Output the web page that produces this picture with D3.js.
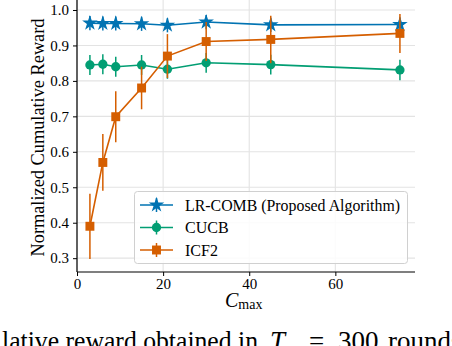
<!DOCTYPE html>
<html><head><meta charset="utf-8">
<script src="https://cdn.jsdelivr.net/npm/d3@7"></script>
<style>body{margin:0;background:#fff}svg{display:block}</style>
</head><body>
<svg id="c" width="452" height="346"></svg>
<script>
const xValues = [3, 6, 9, 15, 21, 30, 45, 75];
const lrcombMean = [0.963, 0.962, 0.962, 0.961, 0.957, 0.966, 0.958, 0.959];
const lrcombErr  = [0.02, 0.02, 0.02, 0.02, 0.02, 0.02, 0.02, 0.02];
const cucbMean = [0.845, 0.847, 0.840, 0.845, 0.833, 0.851, 0.846, 0.831];
const cucbErr  = [0.028, 0.028, 0.028, 0.028, 0.027, 0.028, 0.028, 0.029];
const icf2Mean = [0.390, 0.570, 0.699, 0.780, 0.870, 0.911, 0.917, 0.934];
const icf2Err  = [0.092, 0.080, 0.072, 0.060, 0.062, 0.055, 0.067, 0.055];
const seriesNames = ["LR-COMB (Proposed Algorithm)", "CUCB", "ICF2"];
const seriesColors = ["#0173b2", "#029e73", "#d55e00"];
const xTicks = [0, 20, 40, 60];
const yTicks = [0.3, 0.4, 0.5, 0.6, 0.7, 0.8, 0.9, 1.0];

const FF = '"Liberation Serif", serif';
const svg = d3.select("#c").attr("font-family", FF).style("font-family", FF);
const x = d3.scaleLinear().domain([0, 78.5]).range([77, 415]);
const y = d3.scaleLinear().domain([0.261, 1.0282]).range([272, 0]);

// grid
const g = svg.append("g");
g.selectAll("line.h").data(yTicks).enter().append("line")
  .attr("x1", x(0)).attr("x2", x(78.5)).attr("y1", d => y(d)).attr("y2", d => y(d))
  .attr("stroke", "#e3e3e3").attr("stroke-width", 1.1);
g.selectAll("line.v").data(xTicks).enter().append("line")
  .attr("y1", y(0.261)).attr("y2", 0).attr("x1", d => x(d)).attr("x2", d => x(d))
  .attr("stroke", "#e3e3e3").attr("stroke-width", 1.1);

// axes
const xAxis = d3.axisBottom(x).tickValues(xTicks).tickSize(4).tickPadding(2).tickFormat(d3.format("d"));
const yAxis = d3.axisLeft(y).tickValues(yTicks).tickSize(4).tickPadding(4).tickFormat(d3.format(".1f"));
const gx = svg.append("g").attr("transform", "translate(0,272)").call(xAxis);
const gy = svg.append("g").attr("transform", "translate(77,0)").call(yAxis);
[gx, gy].forEach(a => {
  a.attr("font-family", FF).attr("font-size", 15);
  a.select(".domain").remove();
  a.selectAll("line").attr("stroke", "#000").attr("stroke-width", 1);
  a.selectAll("text").attr("fill", "#000").style("font-size", "15px").style("font-family", FF);
});
svg.append("line").attr("x1", 77).attr("x2", 77).attr("y1", 0).attr("y2", 272).attr("stroke", "#000").attr("stroke-width", 1.2);
svg.append("line").attr("x1", 77).attr("x2", 415).attr("y1", 272).attr("y2", 272).attr("stroke", "#000").attr("stroke-width", 1.2);

// series
const series = [
  {mean: lrcombMean, err: lrcombErr, sym: d3.symbolStar, size: 75},
  {mean: cucbMean, err: cucbErr, sym: d3.symbolCircle, size: 68},
  {mean: icf2Mean, err: icf2Err, sym: d3.symbolSquare, size: 80}
];
const line = d3.line().x(d => x(d[0])).y(d => y(d[1]));
series.forEach((s, i) => {
  const col = seriesColors[i];
  const pts = xValues.map((xv, j) => [xv, s.mean[j], s.err[j]]);
  const sg = svg.append("g");
  sg.selectAll("line.e").data(pts).enter().append("line")
    .attr("x1", d => x(d[0])).attr("x2", d => x(d[0]))
    .attr("y1", d => y(d[1] - d[2])).attr("y2", d => y(d[1] + d[2]))
    .attr("stroke", col).attr("stroke-width", 1.5);
  sg.append("path").datum(pts).attr("d", line).attr("fill", "none").attr("stroke", col).attr("stroke-width", 1.6);
  sg.selectAll("path.m").data(pts).enter().append("path")
    .attr("d", d3.symbol().type(s.sym).size(s.size))
    .attr("transform", d => `translate(${x(d[0])},${y(d[1])})`)
    .attr("fill", col);
});

// legend
const lg = svg.append("g");
lg.append("rect").attr("x", 134.5).attr("y", 191.5).attr("width", 273).attr("height", 72)
  .attr("rx", 3).attr("fill", "#fff").attr("fill-opacity", 0.85).attr("stroke", "#d0d0d0").attr("stroke-width", 1);
const legendWidths = [215, null, null];
seriesNames.forEach((n, i) => {
  const cy = 205 + i * 22.5;
  const col = seriesColors[i];
  lg.append("line").attr("x1", 140).attr("x2", 173).attr("y1", cy).attr("y2", cy).attr("stroke", col).attr("stroke-width", 1.6);
  lg.append("line").attr("x1", 156.5).attr("x2", 156.5).attr("y1", cy - 7).attr("y2", cy + 7).attr("stroke", col).attr("stroke-width", 1.5);
  lg.append("path").attr("d", d3.symbol().type(series[i].sym).size(series[i].size))
    .attr("transform", `translate(156.5,${cy})`).attr("fill", col);
  const t = lg.append("text").attr("x", 185).attr("y", cy + 5.5).text(n)
    .style("font-family", FF).style("font-size", "16px").attr("fill", "#000");
  if (legendWidths[i]) t.attr("textLength", legendWidths[i]).attr("lengthAdjust", "spacingAndGlyphs");
});

// axis labels
svg.append("text").attr("transform", "translate(44,137.5) rotate(-90)").attr("text-anchor", "middle")
  .attr("textLength", 238).attr("lengthAdjust", "spacingAndGlyphs")
  .style("font-family", FF).style("font-size", "18.3px").text("Normalized Cumulative Reward");
const xl = svg.append("text").attr("x", 225).attr("y", 306.5).style("font-family", FF);
xl.append("tspan").text("C").style("font-style", "italic").style("font-size", "20px");
xl.append("tspan").text("max").attr("dy", 2).style("font-size", "14px");

// caption (cut at the bottom)
const capStyle = t => t.style("font-family", FF).style("font-size", "27px").attr("fill", "#000");
capStyle(svg.append("text").attr("x", 2).attr("y", 350).attr("textLength", 256).attr("lengthAdjust", "spacingAndGlyphs").text("lative reward obtained in"));
capStyle(svg.append("text").attr("x", 270).attr("y", 350).style("font-style", "italic").text("T"));
capStyle(svg.append("text").attr("x", 309).attr("y", 350).text("="));
capStyle(svg.append("text").attr("x", 338).attr("y", 350).text("300"));
capStyle(svg.append("text").attr("x", 388).attr("y", 350).text("rounds"));
</script>
</body></html>
